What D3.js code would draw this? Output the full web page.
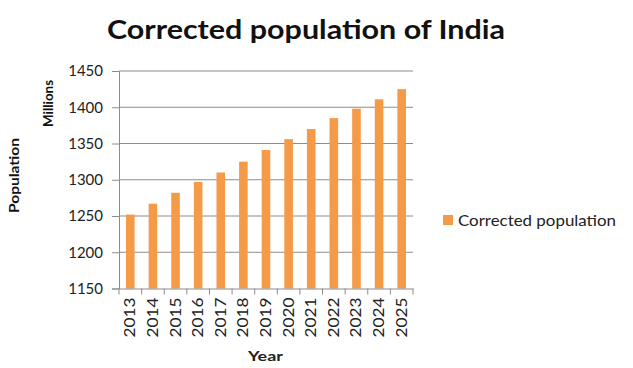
<!DOCTYPE html>
<html><head><meta charset="utf-8">
<script src="https://cdn.jsdelivr.net/npm/d3@7"></script>
<style>body{margin:0;background:#fff;} svg{display:block;font-family:Lato,"Open Sans",sans-serif;}</style>
</head><body>
<svg id="c" width="633" height="368"></svg>
<script>
const years = ["2013","2014","2015","2016","2017","2018","2019","2020","2021","2022","2023","2024","2025"];
const population = [1252,1267,1282,1297,1310,1325,1341,1356,1370,1385,1398,1411,1425];
const yTicks = [1150,1200,1250,1300,1350,1400,1450];
const seriesName = "Corrected population";

const svg = d3.select("#c");
const m = {l:119, r:413, t:71, b:288.5};
const x = d3.scaleBand().domain(years).range([m.l, m.r]).paddingInner(0.62).paddingOuter(0.31);
const y = d3.scaleLinear().domain([1150,1450]).range([m.b, m.t]);
const color = "#F59A47";

svg.append("text").attr("x",107).attr("y",38.5)
  .attr("font-size",26).attr("font-weight","bold").attr("fill","#111")
  .attr("textLength",398).attr("lengthAdjust","spacingAndGlyphs").text("Corrected population of India");

// gridlines
svg.append("g").selectAll("line").data(yTicks.slice(1)).join("line")
  .attr("x1",m.l).attr("x2",m.r).attr("y1",d=>y(d)).attr("y2",d=>y(d))
  .attr("stroke","#8c8c8c").attr("stroke-width",1);

// bars
svg.append("g").selectAll("rect").data(years).join("rect")
  .attr("x",d=>x(d)).attr("width",x.bandwidth())
  .attr("y",(d,i)=>y(population[i])).attr("height",(d,i)=>y(1150)-y(population[i]))
  .attr("fill",color);

// y axis
const ya = svg.append("g").attr("transform",`translate(${m.l},0)`)
  .call(d3.axisLeft(y).tickValues(yTicks).tickSize(7).tickPadding(9).tickFormat(d3.format("d")));
ya.select(".domain").attr("stroke","#8c8c8c");
ya.selectAll(".tick line").attr("stroke","#8c8c8c");
ya.selectAll("text").attr("font-size",15).attr("fill","#222").attr("font-family","Lato,sans-serif");

// x axis
const xa = svg.append("g").attr("transform",`translate(0,${m.b})`)
  .call(d3.axisBottom(x).tickSize(0).tickPadding(0));
xa.select(".domain").attr("stroke","#8c8c8c");
xa.selectAll(".tick text").attr("transform","rotate(-90)").attr("text-anchor","end")
  .attr("dx",-9).attr("dy",5).attr("y",0).attr("x",0)
  .attr("font-size",14.5).attr("fill","#222").attr("font-family","Lato,sans-serif")
  .attr("textLength",40).attr("lengthAdjust","spacingAndGlyphs");
// category boundary ticks
const bounds = d3.range(years.length+1).map(i=>m.l + i*(m.r-m.l)/years.length);
xa.append("g").selectAll("line").data(bounds).join("line")
  .attr("x1",d=>d).attr("x2",d=>d).attr("y1",0).attr("y2",6).attr("stroke","#8c8c8c");

// axis titles
svg.append("text").attr("transform","translate(52.5,127) rotate(-90)")
  .attr("font-size",13).attr("font-weight","bold").attr("fill","#111")
  .attr("textLength",47).attr("lengthAdjust","spacingAndGlyphs").text("Millions");
svg.append("text").attr("transform","translate(18.5,213) rotate(-90)")
  .attr("font-size",13).attr("font-weight","bold").attr("fill","#111")
  .attr("textLength",75).attr("lengthAdjust","spacingAndGlyphs").text("Population");
svg.append("text").attr("x",248).attr("y",361)
  .attr("font-size",14).attr("font-weight","bold").attr("fill","#222")
  .attr("textLength",35).attr("lengthAdjust","spacingAndGlyphs").text("Year");

// legend
const lg = svg.append("g").attr("transform","translate(443,215)");
lg.append("rect").attr("width",10).attr("height",10).attr("fill",color);
lg.append("text").attr("x",15).attr("y",11).attr("font-size",15).attr("fill","#222")
  .attr("textLength",158).attr("lengthAdjust","spacingAndGlyphs").text(seriesName);
</script>
</body></html>
